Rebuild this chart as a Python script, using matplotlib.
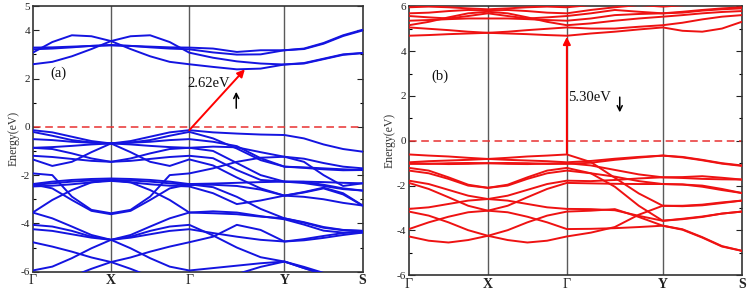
import numpy as np
import matplotlib
matplotlib.use("Agg")
import matplotlib.pyplot as plt
from matplotlib.ticker import FixedLocator

# ---------------- data ----------------
k_nodes = [0.0, 1.0, 2.0, 3.215, 4.215]
k_labels = ["Γ", "X", "Γ", "Y", "S"]
k_label_bold = [False, True, False, True, True]

# each band: 17 energies (Γ .. X .. Γ .. Y .. S, 4 steps per segment)
bands_a_cond = [
    [2.59, 2.69, 2.92, 3.22, 3.55, 3.22, 2.92, 2.69, 2.59, 2.48, 2.38, 2.41, 2.58, 2.62, 2.80, 2.98, 3.05],
    [3.07, 3.51, 3.79, 3.75, 3.55, 3.75, 3.79, 3.51, 3.07, 2.86, 2.71, 2.62, 2.58, 2.64, 2.82, 3.00, 3.06],
    [3.28, 3.29, 3.32, 3.35, 3.37, 3.35, 3.32, 3.29, 3.28, 3.24, 3.10, 3.17, 3.17, 3.24, 3.47, 3.79, 4.02],
    [3.21, 3.24, 3.29, 3.35, 3.39, 3.35, 3.29, 3.24, 3.21, 3.08, 2.99, 3.00, 3.17, 3.22, 3.44, 3.76, 3.99],
]
bands_a_val = [
    [-0.14, -0.23, -0.41, -0.59, -0.69, -0.59, -0.41, -0.23, -0.14, -0.23, -0.28, -0.32, -0.34, -0.48, -0.73, -0.92, -1.03],
    [-0.21, -0.37, -0.55, -0.65, -0.69, -0.65, -0.55, -0.37, -0.21, -0.48, -0.90, -1.38, -1.65, -1.68, -1.72, -1.76, -1.79],
    [-0.51, -0.55, -0.62, -0.66, -0.69, -0.66, -0.62, -0.55, -0.51, -0.62, -0.80, -1.30, -1.65, -1.70, -1.76, -1.80, -1.79],
    [-0.87, -0.84, -0.79, -0.73, -0.69, -0.73, -0.79, -0.84, -0.87, -0.82, -0.85, -1.05, -1.24, -1.32, -1.50, -1.65, -1.72],
    [-0.87, -0.92, -1.10, -1.31, -1.45, -1.31, -1.10, -0.92, -0.87, -1.00, -1.50, -2.00, -2.27, -2.27, -2.29, -2.32, -2.34],
    [-1.20, -1.25, -1.33, -1.41, -1.45, -1.41, -1.33, -1.25, -1.20, -1.30, -1.79, -2.20, -2.27, -2.33, -2.45, -2.58, -2.64],
    [-1.35, -1.62, -1.45, -1.05, -0.69, -1.05, -1.45, -1.62, -1.35, -1.60, -2.10, -2.55, -2.85, -2.70, -2.52, -2.75, -3.26],
    [-1.93, -2.00, -2.89, -3.44, -3.58, -3.44, -2.89, -2.00, -1.93, -1.72, -1.45, -1.28, -1.24, -1.45, -2.00, -2.45, -2.34],
    [-2.37, -2.27, -2.20, -2.16, -2.14, -2.16, -2.20, -2.27, -2.37, -2.35, -2.32, -2.29, -2.27, -2.28, -2.40, -2.55, -2.64],
    [-2.41, -2.34, -2.27, -2.22, -2.20, -2.22, -2.27, -2.34, -2.41, -2.40, -2.45, -2.60, -2.85, -2.90, -3.00, -3.15, -3.26],
    [-2.47, -2.44, -2.38, -2.30, -2.24, -2.30, -2.38, -2.44, -2.47, -2.75, -3.20, -3.05, -2.85, -2.72, -2.55, -2.80, -3.26],
    [-2.38, -2.55, -3.03, -3.48, -3.62, -3.48, -3.03, -2.55, -2.38, -2.50, -2.90, -3.40, -3.79, -3.95, -4.15, -4.27, -4.31],
    [-3.55, -3.03, -2.62, -2.30, -2.20, -2.30, -2.62, -3.03, -3.55, -3.58, -3.62, -3.72, -3.79, -3.97, -4.18, -4.28, -4.31],
    [-3.55, -3.79, -4.13, -4.48, -4.68, -4.48, -4.13, -3.79, -3.55, -3.50, -3.55, -3.70, -3.83, -4.05, -4.30, -4.38, -4.38],
    [-4.06, -4.13, -4.31, -4.55, -4.68, -4.55, -4.31, -4.13, -4.06, -4.50, -5.00, -5.40, -5.58, -5.80, -6.05, -6.30, -6.50],
    [-4.24, -4.31, -4.45, -4.59, -4.68, -4.59, -4.45, -4.31, -4.24, -4.40, -4.55, -4.68, -4.75, -4.70, -4.60, -4.48, -4.38],
    [-4.78, -4.96, -5.17, -5.41, -5.60, -5.41, -5.17, -4.96, -4.78, -4.55, -4.06, -4.27, -4.75, -4.65, -4.52, -4.40, -4.31],
    [-5.95, -5.79, -5.44, -5.03, -4.68, -5.03, -5.44, -5.79, -5.95, -5.85, -5.75, -5.65, -5.58, -5.85, -6.10, -6.35, -6.60],
    [-6.68, -6.47, -6.20, -5.88, -5.60, -5.88, -6.20, -6.47, -6.68, -6.40, -6.10, -5.80, -5.58, -5.85, -6.10, -6.35, -6.60],
]

bands_b_cond = [
    [4.69, 4.72, 4.76, 4.79, 4.82, 4.79, 4.76, 4.72, 4.69, 4.79, 4.87, 4.97, 5.06, 4.91, 4.87, 5.01, 5.31],
    [5.06, 5.00, 4.94, 4.87, 4.82, 4.87, 4.94, 5.00, 5.06, 5.01, 5.01, 5.09, 5.16, 5.27, 5.42, 5.54, 5.61],
    [5.16, 5.31, 5.51, 5.69, 5.76, 5.69, 5.51, 5.31, 5.16, 5.24, 5.36, 5.46, 5.54, 5.61, 5.69, 5.75, 5.79],
    [5.36, 5.39, 5.43, 5.46, 5.46, 5.46, 5.43, 5.39, 5.36, 5.46, 5.61, 5.66, 5.69, 5.76, 5.84, 5.91, 5.96],
    [5.57, 5.51, 5.46, 5.57, 5.69, 5.57, 5.46, 5.51, 5.57, 5.69, 5.84, 5.76, 5.69, 5.72, 5.81, 5.87, 5.91],
    [5.69, 5.72, 5.79, 5.84, 5.81, 5.84, 5.79, 5.72, 5.69, 5.84, 5.96, 6.06, 5.99, 6.05, 6.10, 6.15, 6.20],
    [5.96, 5.99, 5.96, 5.91, 5.87, 5.91, 5.96, 5.99, 5.96, 6.06, 6.15, 6.20, 6.20, 6.30, 6.30, 6.30, 6.30],
]
bands_b_val = [
    [-0.61, -0.66, -0.70, -0.76, -0.81, -0.76, -0.70, -0.66, -0.61, -0.95, -1.65, -2.35, -2.90, -2.90, -2.85, -2.75, -2.67],
    [-0.96, -0.91, -0.88, -0.85, -0.81, -0.85, -0.88, -0.91, -0.96, -0.90, -0.80, -0.72, -0.66, -0.72, -0.85, -1.00, -1.10],
    [-1.03, -1.03, -1.00, -0.99, -1.00, -0.99, -1.00, -1.03, -1.03, -0.98, -0.85, -0.75, -0.66, -0.74, -0.87, -1.02, -1.12],
    [-1.00, -1.02, -1.04, -1.03, -1.00, -1.03, -1.04, -1.02, -1.00, -1.10, -1.30, -1.50, -1.63, -1.62, -1.58, -1.65, -1.73],
    [-1.21, -1.33, -1.63, -1.96, -2.10, -1.96, -1.63, -1.33, -1.21, -1.45, -2.05, -2.90, -3.57, -3.50, -3.40, -3.25, -3.16],
    [-1.33, -1.45, -1.70, -2.00, -2.10, -2.00, -1.70, -1.45, -1.33, -1.45, -1.60, -1.80, -1.93, -1.95, -2.00, -2.15, -2.33],
    [-1.78, -1.93, -2.19, -2.45, -2.60, -2.45, -2.19, -1.93, -1.78, -1.80, -1.75, -1.68, -1.63, -1.66, -1.70, -1.72, -1.73],
    [-1.88, -2.15, -2.52, -2.90, -3.12, -2.90, -2.52, -2.15, -1.88, -1.90, -1.92, -1.93, -1.93, -1.95, -2.05, -2.20, -2.33],
    [-3.04, -2.97, -2.82, -2.67, -2.60, -2.67, -2.82, -2.97, -3.04, -3.05, -3.10, -3.35, -3.57, -3.48, -3.38, -3.25, -3.16],
    [-3.16, -3.34, -3.64, -3.99, -4.24, -3.99, -3.64, -3.34, -3.16, -3.12, -3.05, -3.40, -3.79, -3.95, -4.30, -4.70, -4.91],
    [-3.94, -3.64, -3.39, -3.19, -3.12, -3.19, -3.39, -3.64, -3.94, -3.93, -3.90, -3.85, -3.79, -3.97, -4.32, -4.72, -4.91],
    [-4.27, -4.46, -4.54, -4.43, -4.24, -4.43, -4.54, -4.46, -4.27, -4.10, -3.85, -3.30, -2.90, -2.92, -2.88, -2.78, -2.67],
]

# gap arrows (k, E) and labels
gap_a_k = [2.0, 2.71]
gap_a_E = [-0.14, 2.38]
gap_a_label = "2.62eV"
gap_b_k = [2.0, 2.0]
gap_b_E = [-0.55, 4.64]
gap_b_label = "5.30eV"

ylim_a = (-6, 5)
ylim_b = (-6, 6)
yticks_a = [-6, -4, -2, 0, 2, 4, 5]
yticks_b = [-6, -4, -2, 0, 2, 4, 6]

# ---------------- plotting ----------------
SERIF = ["Liberation Serif", "DejaVu Serif"]
plt.rcParams["font.family"] = SERIF

k_path = np.concatenate(
    [np.linspace(k_nodes[i], k_nodes[i + 1], 5)[(0 if i == 0 else 1):] for i in range(len(k_nodes) - 1)]
)

fig = plt.figure(figsize=(7.47, 2.90), dpi=100)
ax_a = fig.add_axes([0.0438, 0.0631, 0.4417, 0.916])
ax_b = fig.add_axes([0.5475, 0.0510, 0.4454, 0.9270])

blue = "#1414e0"
red = "#ee1212"


def style_axis(ax, ylim, yticks, color):
    ax.set_xlim(k_nodes[0], k_nodes[-1])
    ax.set_ylim(*ylim)
    for kn in k_nodes[1:-1]:
        ax.axvline(kn, color="#5a5a5a", lw=1.0, zorder=1)
    ax.axhline(0, color="#e83030", lw=1.1, ls=(0, (5, 3)), zorder=2)
    ax.set_yticks(yticks)
    ax.set_yticklabels([str(t).replace("\u2212", "-") for t in yticks], fontsize=8, color="#222222")
    minor = [v for v in range(ylim[0], ylim[1] + 1) if v not in yticks]
    ax.yaxis.set_minor_locator(FixedLocator(minor))
    ax.tick_params(axis="y", which="major", direction="in", length=4, width=0.8,
                   left=True, right=True, pad=2, colors="#222222")
    ax.tick_params(axis="y", which="minor", direction="in", length=2, width=0.8,
                   left=True, right=True)
    ax.set_xticks(k_nodes)
    ax.set_xticklabels(k_labels)
    for lab, bold in zip(ax.get_xticklabels(), k_label_bold):
        lab.set_fontweight("bold" if bold else "normal")
        lab.set_fontsize(10)
        lab.set_color("#222222")
    ax.tick_params(axis="x", length=0, pad=2)
    for sp in ax.spines.values():
        sp.set_color("#333333")
        sp.set_linewidth(1.2)
    ax.set_ylabel("Energy(eV)", fontsize=8.5, color="#333333", labelpad=1)


for ax, cond, val, ylim, yt, col in [
    (ax_a, bands_a_cond, bands_a_val, ylim_a, yticks_a, blue),
    (ax_b, bands_b_cond, bands_b_val, ylim_b, yticks_b, red),
]:
    style_axis(ax, ylim, yt, col)
    for band in cond + val:
        ax.plot(k_path, band, color=col, lw=1.4, solid_joinstyle="round",
                solid_capstyle="round", zorder=3)

# panel (a) annotations
ax_a.annotate("", xy=(gap_a_k[1], gap_a_E[1]), xytext=(gap_a_k[0], gap_a_E[0]),
              arrowprops=dict(arrowstyle="-|>", color="red", lw=1.4, mutation_scale=11,
                              shrinkA=0, shrinkB=0), zorder=5)
ax_a.text(1.97, 1.78, gap_a_label, fontsize=10.5, ha="left", va="center", color="#111111")
ax_a.text(0.33, 2.22, "(a)", fontsize=10.5, ha="center", va="center", color="#111111")
ax_a.annotate("", xy=(2.60, 1.45), xytext=(2.60, 0.77),
              arrowprops=dict(arrowstyle="->", color="black", lw=1.1, mutation_scale=9,
                              shrinkA=0, shrinkB=0))

# panel (b) annotations
ax_b.annotate("", xy=(gap_b_k[1], gap_b_E[1]), xytext=(gap_b_k[0], gap_b_E[0]),
              arrowprops=dict(arrowstyle="-|>", color="red", lw=1.4, mutation_scale=11,
                              shrinkA=0, shrinkB=0), zorder=5)
ax_b.text(2.01, 1.95, gap_b_label, fontsize=10.5, ha="left", va="center", color="#111111")
ax_b.text(0.39, 2.88, "(b)", fontsize=10.5, ha="center", va="center", color="#111111")
ax_b.annotate("", xy=(2.67, 1.27), xytext=(2.67, 1.95),
              arrowprops=dict(arrowstyle="->", color="black", lw=1.1, mutation_scale=9,
                              shrinkA=0, shrinkB=0))

fig.savefig("out.png", dpi=100)
